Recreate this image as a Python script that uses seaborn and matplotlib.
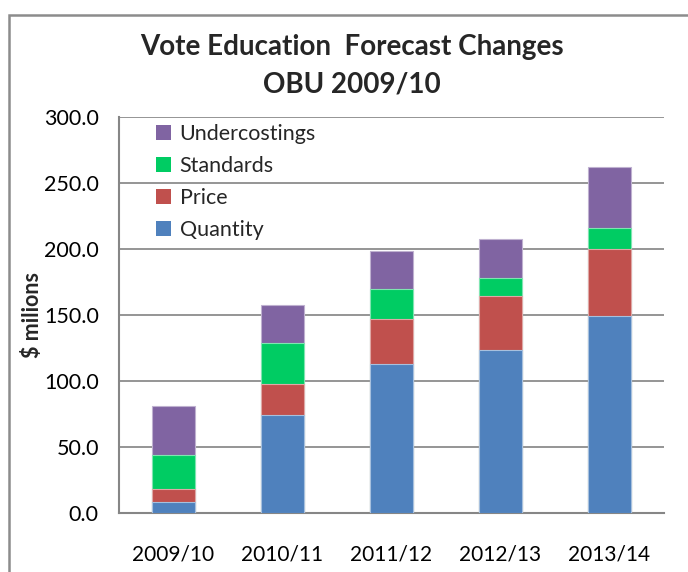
import numpy as np
import pandas as pd
import matplotlib
matplotlib.use("Agg")
import matplotlib.pyplot as plt
from matplotlib.patches import Rectangle, Patch
import seaborn as sns

years = ["2009/10", "2010/11", "2011/12", "2012/13", "2013/14"]
quantity = [8.6, 74.2, 112.6, 123.3, 149.2]
price = [9.8, 23.2, 34.1, 40.9, 50.6]
standards = [25.8, 31.3, 22.8, 13.6, 15.9]
undercostings = [36.9, 29.1, 28.8, 29.8, 46.6]

series_names = ["Quantity", "Price", "Standards", "Undercostings"]
series_values = [quantity, price, standards, undercostings]
colors = ["#4F81BD", "#C0504D", "#00CC63", "#8064A2"]
edge_colors = ["#A7C0DE", "#DFA8A6", "#7FE5B1", "#BFB1D0"]

sns.set_theme(style="white")
plt.rcParams["font.family"] = ["Lato", "DejaVu Sans"]

W, H = 688, 572
fig = plt.figure(figsize=(W / 100, H / 100), dpi=100)
ax = fig.add_axes([119 / W, 1 - 513 / H, (664 - 119) / W, (513 - 117) / H])

# long table of segments; stacked by layering cumulative totals
df = pd.DataFrame({"year": np.repeat(years, len(series_names)),
                   "series": series_names * len(years),
                   "value": np.array(series_values).T.ravel()})
df["series"] = pd.Categorical(df["series"], series_names, ordered=True)
df = df.sort_values(["year", "series"])
df["top"] = df.groupby("year")["value"].cumsum()

for name, col, ec in reversed(list(zip(series_names, colors, edge_colors))):
    sub = df[df["series"] == name]
    sns.barplot(data=sub, x="year", y="top", order=years, color=col,
                width=0.4, edgecolor=ec, linewidth=0.8, saturation=1,
                ax=ax, zorder=3)

# axes styling
ax.set_ylim(0, 300)
ax.set_xlim(-0.5, 4.5)
ax.set_yticks(np.arange(0, 301, 50))
ax.set_yticklabels([f"{v:.1f}" for v in np.arange(0, 301, 50)])
ax.yaxis.grid(True, color="#8C8C8C", linewidth=1.3, zorder=0)
ax.set_axisbelow(True)

ax.set_xticks(np.arange(-0.5, 4.6, 1.0))
ax.set_xticklabels([])
ax.set_xticks(np.arange(5), minor=True)
ax.set_xticklabels(years, minor=True)
ax.tick_params(axis="x", which="major", direction="out", length=7,
               width=1.3, color="#868686")
ax.tick_params(axis="x", which="minor", length=0, pad=23,
               labelsize=15, labelcolor="black")
ax.tick_params(axis="y", direction="inout", length=11, width=1.3,
               color="#868686", pad=9, labelsize=15.5, labelcolor="black")

for side in ["top", "right"]:
    ax.spines[side].set_visible(False)
for side in ["left", "bottom"]:
    ax.spines[side].set_color("#868686")
    ax.spines[side].set_linewidth(1.5)

ax.set_xlabel("")
ax.set_ylabel("$ milions", fontsize=15.5, fontweight="bold", labelpad=1)

handles = [Patch(facecolor=c, edgecolor="none") for c in colors]
leg = ax.legend(handles[::-1], series_names[::-1], loc="upper left",
                bbox_to_anchor=(0.04, 1.02), frameon=False, fontsize=15.5,
                handlelength=0.7, handleheight=0.7, handletextpad=0.4,
                labelspacing=0.56, borderaxespad=0.3)

fig.text(352 / W, 1 - 47 / H, "Vote Education  Forecast Changes",
         ha="center", va="center", fontsize=20, fontweight="bold")
fig.text(352 / W, 1 - 85 / H, "OBU 2009/10",
         ha="center", va="center", fontsize=20, fontweight="bold")

# chart-area frame
fig.patches.append(Rectangle((9 / W, -0.1), 1.2, 1.1 - 15 / H,
                             transform=fig.transFigure, fill=False,
                             edgecolor="#8C8C8C", linewidth=1.8))

fig.savefig("out.png", dpi=100)
